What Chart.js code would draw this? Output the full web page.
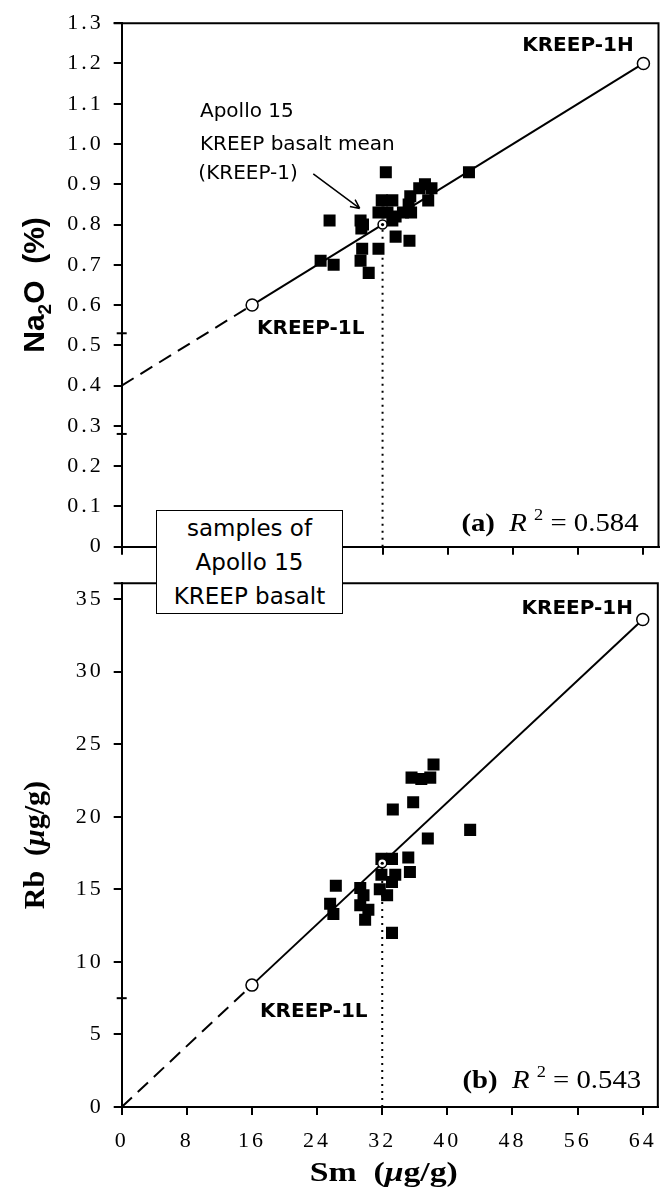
<!DOCTYPE html>
<html lang="en">
<head>
<meta charset="UTF-8">
<title>Apollo 15 KREEP basalt: Na2O and Rb against Sm</title>
<script src="https://cdn.jsdelivr.net/npm/chart.js"></script>
<style>
  body { margin: 0; background: #fff; }
  #wrap { position: relative; width: 667px; height: 1194px; overflow: hidden; }
  #topChart { position: absolute; left: 0; top: 0; }
  #bottomChart { position: absolute; left: 0; top: 560px; }
  #samplesBox {
    position: absolute; left: 156px; top: 510px; width: 187px; height: 104px;
    box-sizing: border-box; border: 1.5px solid #000; background: #fff;
    font: 23px "DejaVu Sans", sans-serif; line-height: 34px; text-align: center;
    color: #000; padding-top: 0;
  }
</style>
</head>
<body>
<div id="wrap">
  <canvas id="topChart" width="667" height="570"></canvas>
  <canvas id="bottomChart" width="667" height="634"></canvas>
  <div id="samplesBox">samples of<br>Apollo 15<br>KREEP basalt</div>
</div>

<script>
// Sm (ug/g) and Na2O (%) of the Apollo 15 KREEP basalt samples
const na2oSm  = [24.4, 25.5, 26.0, 29.3, 29.6, 29.4, 29.5, 29.3, 30.3, 31.5, 32.4, 31.9, 33.2, 31.5,
                 32.6, 33.6, 33.2, 33.6, 35.3, 35.4, 35.2, 35.5, 34.5, 37.2, 38.0, 37.6, 36.5, 42.6];
const na2oPct = [0.71, 0.81, 0.70, 0.81, 0.80, 0.79, 0.74, 0.71, 0.68, 0.74, 0.93, 0.86, 0.86, 0.83,
                 0.83, 0.82, 0.81, 0.77, 0.76, 0.87, 0.85, 0.83, 0.83, 0.90, 0.89, 0.86, 0.89, 0.93];

// Sm (ug/g) and Rb (ug/g) of the same suite
const rbSm = [35.2, 35.4, 33.2, 31.9, 33.6, 31.9, 33.2, 31.7, 32.6, 26.3, 29.3, 29.7, 25.6, 26.0,
              29.3, 30.3, 29.9, 33.2, 38.3, 37.9, 35.6, 36.8, 35.8, 33.3, 37.6, 42.8];
const rbVal = [17.2, 16.2, 17.1, 17.1, 16.0, 16.0, 15.5, 15.0, 14.6, 15.25, 15.1, 14.6, 14.0, 13.3,
               13.9, 13.6, 12.9, 12.0, 23.6, 22.7, 22.7, 22.6, 21.0, 20.5, 18.5, 19.1];

// KREEP-1L, KREEP-1 (mean) and KREEP-1H
const kreepSm    = [16, 32, 64];
const kreepNa2O  = [0.6, 0.8, 1.2];
const kreepRb    = [8.4, 16.8, 33.6];
const kreepNames = ['KREEP-1L', 'KREEP-1', 'KREEP-1H'];

// mixing lines, extrapolated (dashed) below KREEP-1L
const lineSm   = [0, 16, 64];
const na2oLine = [0.4, 0.6, 1.2];
const rbLine   = [0, 8.4, 33.6];

// short marks on the y axes
const na2oAxisMarks = [0.53, 0.28];
const rbAxisMarks   = [7.5];

const xTicks    = [0, 8, 16, 24, 32, 40, 48, 56, 64];
const na2oTicks = [0, 0.1, 0.2, 0.3, 0.4, 0.5, 0.6, 0.7, 0.8, 0.9, 1.0, 1.1, 1.2, 1.3];
const rbTicks   = [0, 5, 10, 15, 20, 25, 30, 35];

const r2 = { a: '0.584', b: '0.543' };

const ink = '#000';
const serif = '"Liberation Serif", "Times New Roman", serif';
const sansB = '"Liberation Sans", Arial, sans-serif';
const note = '"DejaVu Sans", sans-serif';

const pts = (xs, ys) => xs.map((v, i) => ({ x: v, y: ys[i] }));

// text made of runs with their own font / baseline shift
function drawRuns(ctx, runs, x, y, align, stretch, rotate) {
  ctx.save();
  ctx.translate(x, y);
  if (rotate) ctx.rotate(rotate);
  ctx.scale(stretch || 1, 1);
  ctx.fillStyle = ink;
  ctx.textAlign = 'left';
  ctx.textBaseline = 'alphabetic';
  ctx.letterSpacing = '0px';
  let total = 0;
  runs.forEach(r => { ctx.font = r.font; r.w = ctx.measureText(r.text).width; total += r.w; });
  let cx = align === 'center' ? -total / 2 : align === 'right' ? -total : 0;
  runs.forEach(r => { ctx.font = r.font; ctx.fillText(r.text, cx, r.dy || 0); cx += r.w; });
  ctx.restore();
}

function overlay(o) {
  return {
    id: 'overlay',
    beforeDraw(chart) { chart.ctx.letterSpacing = '3px'; },
    afterDraw(chart) {
      const { ctx, chartArea: a, scales: { x, y } } = chart;
      ctx.save();
      ctx.strokeStyle = ink;
      ctx.lineWidth = 2;
      ctx.beginPath();
      ctx.moveTo(a.left - 8, a.top);
      ctx.lineTo(a.right, a.top);
      ctx.lineTo(a.right, a.bottom);
      ctx.stroke();
      if (o.arrow) {
        const [p, q] = o.arrow;
        const x0 = x.getPixelForValue(p[0]), y0 = y.getPixelForValue(p[1]);
        const x1 = x.getPixelForValue(q[0]), y1 = y.getPixelForValue(q[1]);
        const ang = Math.atan2(y1 - y0, x1 - x0);
        ctx.lineWidth = 1.5;
        ctx.beginPath();
        ctx.moveTo(x0, y0); ctx.lineTo(x1, y1);
        [0.45, -0.45].forEach(d => {
          ctx.moveTo(x1, y1);
          ctx.lineTo(x1 - 10 * Math.cos(ang + d), y1 - 10 * Math.sin(ang + d));
        });
        ctx.stroke();
      }
      ctx.restore();
      o.labels.forEach(l => drawRuns(ctx, l.runs, x.getPixelForValue(l.x), y.getPixelForValue(l.y), l.align, l.stretch));
      const yt = o.yTitle;
      drawRuns(ctx, yt.runs, yt.x, (a.top + a.bottom) / 2, 'center', 1, -Math.PI / 2);
      if (o.xTitle) {
        drawRuns(ctx, o.xTitle.runs, (a.left + a.right) / 2 + o.xTitle.dx, a.bottom + o.xTitle.dy, 'center', o.xTitle.stretch);
      }
    }
  };
}

function r2Runs(tag, val) {
  return [
    { text: '(' + tag + ')', font: 'bold 25px ' + serif },
    { text: '  ', font: '25px ' + serif },
    { text: 'R', font: 'italic 25px ' + serif },
    { text: ' ', font: '25px ' + serif },
    { text: '2', font: '16px ' + serif, dy: -11 },
    { text: ' = ' + val, font: '25px ' + serif }
  ];
}

function keepTicks(list) {
  return scale => {
    scale.ticks = scale.ticks.filter(t => list.some(v => Math.abs(v - t.value) < 1e-6));
  };
}

function axis(min, max, step, list, opts) {
  return Object.assign({
    type: 'linear', min, max,
    afterBuildTicks: keepTicks(list),
    border: { display: true, color: ink, width: 2 },
    grid: { drawOnChartArea: false, drawTicks: true, tickLength: 8, color: ink, lineWidth: 2 },
    ticks: { stepSize: step, includeBounds: false, color: ink, font: { family: serif, size: 22 }, padding: 10 }
  }, opts);
}

function datasets(yPts, lineY, markY, mean) {
  return [
    { data: [mean], pointStyle: 'circle', pointRadius: 1.6, backgroundColor: ink, borderWidth: 0, clip: false },
    { data: pts(kreepSm, yPts), pointStyle: 'circle', pointRadius: [6, 4.5, 6],
      backgroundColor: '#fff', borderColor: ink, borderWidth: 1.5, clip: false },
    { data: null, pointStyle: 'rect', pointRadius: 8.5, backgroundColor: ink, borderWidth: 0 },
    { type: 'line', data: pts(lineSm, lineY), borderColor: ink, borderWidth: 2, pointRadius: 0,
      clip: false, segment: { borderDash: c => c.p0DataIndex === 0 ? [14, 8] : undefined } },
    { type: 'line', data: [{ x: mean.x, y: 0 }, mean], borderColor: ink, borderWidth: 2,
      borderDash: [2, 5], pointRadius: 0 },
    { data: markY.map(v => ({ x: 0, y: v })), pointStyle: 'line', pointRadius: 5,
      borderColor: ink, borderWidth: 2, clip: false }
  ];
}

const baseOptions = {
  responsive: false, animation: false, devicePixelRatio: 1,
  plugins: { legend: { display: false }, tooltip: { enabled: false } }
};

// ---- Na2O vs Sm ----
const topSets = datasets(kreepNa2O, na2oLine, na2oAxisMarks, { x: kreepSm[1], y: kreepNa2O[1] });
topSets[2].data = pts(na2oSm, na2oPct);

new Chart(document.getElementById('topChart'), {
  type: 'scatter',
  data: { datasets: topSets },
  options: Object.assign({}, baseOptions, {
    layout: { padding: { left: 0, top: 15, right: 6, bottom: 0 } },
    scales: {
      x: axis(0, 65.85, 8, xTicks, {
        ticks: { display: false, stepSize: 8, includeBounds: false },
        afterFit: s => { s.height = 23.3; }
      }),
      y: axis(0, 1.3, 0.1, na2oTicks, {
        afterFit: s => { s.width = 121.7; }
      })
    }
  }),
  plugins: [overlay({
    labels: [
      { runs: [{ text: kreepNames[2], font: 'bold 20px ' + note }], x: 62.8, y: 1.231, align: 'right' },
      { runs: [{ text: kreepNames[0], font: 'bold 20px ' + note }], x: 16.6, y: 0.527, align: 'left' },
      { runs: [{ text: 'Apollo 15', font: '20px ' + note }], x: 9.6, y: 1.068, align: 'left' },
      { runs: [{ text: 'KREEP basalt mean', font: '20px ' + note }], x: 9.6, y: 0.985, align: 'left' },
      { runs: [{ text: '(' + kreepNames[1] + ')', font: '20px ' + note }], x: 9.4, y: 0.914, align: 'left' },
      { runs: r2Runs('a', r2.a), x: 63.4, y: 0.038, align: 'right', stretch: 1.15 }
    ],
    arrow: [[23.5, 0.926], [29.2, 0.840]],
    yTitle: {
      x: 44,
      runs: [
        { text: 'Na', font: 'bold 30px ' + sansB },
        { text: '2', font: 'bold 19px ' + sansB, dy: 7 },
        { text: 'O  (%)', font: 'bold 30px ' + sansB }
      ]
    }
  })]
});

// ---- Rb vs Sm ----
const botSets = datasets(kreepRb, rbLine, rbAxisMarks, { x: kreepSm[1], y: kreepRb[1] });
botSets[2].data = pts(rbSm, rbVal);

new Chart(document.getElementById('bottomChart'), {
  type: 'scatter',
  data: { datasets: botSets },
  options: Object.assign({}, baseOptions, {
    layout: { padding: { left: 0, top: 14, right: 6, bottom: 0 } },
    scales: {
      x: axis(0, 65.85, 8, xTicks, {
        ticks: { stepSize: 8, includeBounds: false, color: ink, font: { family: serif, size: 22 }, padding: 13 },
        afterFit: s => { s.height = 87; }
      }),
      y: axis(0, 36.1, 5, rbTicks, {
        afterFit: s => { s.width = 121.7; }
      })
    }
  }),
  plugins: [overlay({
    labels: [
      { runs: [{ text: kreepNames[2], font: 'bold 20px ' + note }], x: 62.8, y: 34.0, align: 'right' },
      { runs: [{ text: kreepNames[0], font: 'bold 20px ' + note }], x: 17.0, y: 6.23, align: 'left' },
      { runs: r2Runs('b', r2.b), x: 63.8, y: 1.29, align: 'right', stretch: 1.15 }
    ],
    yTitle: {
      x: 44,
      runs: [
        { text: 'Rb  (', font: 'bold 30px ' + serif },
        { text: 'μ', font: 'italic bold 30px ' + serif },
        { text: 'g/g)', font: 'bold 30px ' + serif }
      ]
    },
    xTitle: {
      dx: -6, dy: 74, stretch: 1.25,
      runs: [
        { text: 'Sm  (', font: 'bold 27px ' + serif },
        { text: 'μ', font: 'italic bold 27px ' + serif },
        { text: 'g/g)', font: 'bold 27px ' + serif }
      ]
    }
  })]
});
</script>
</body>
</html>
